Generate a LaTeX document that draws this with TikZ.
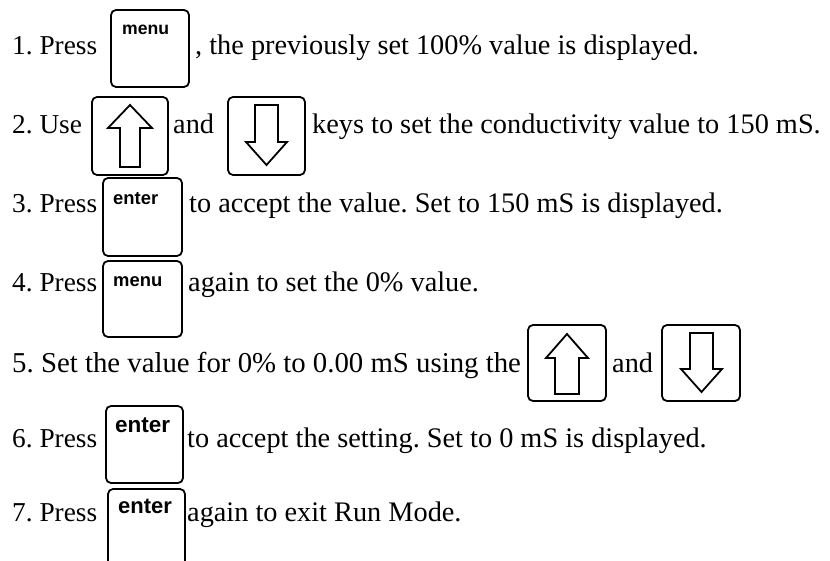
\documentclass[tikz,border=0pt]{standalone}
\usepackage{fontspec}
\setmainfont{Liberation Serif}
\newfontfamily\keyfont{Liberation Sans}
\begin{document}
\frenchspacing
\begin{tikzpicture}[x=1pt,y=-1pt,
  txt/.style={anchor=base west,inner sep=0pt,font=\fontsize{28.3}{32}\selectfont},
  pre/.style={anchor=base west,inner sep=0pt,font=\fontsize{27.3}{32}\selectfont},
  keybox/.style={draw,line width=1.8pt,rounded corners=5pt},
  keylbl/.style={anchor=base west,inner sep=0pt,font=\keyfont\bfseries\fontsize{#1}{#1}\selectfont},
  arr/.style={draw,line width=1.8pt,line join=miter}]
\useasboundingbox (0,0) rectangle (830,561);
\clip (0,0) rectangle (830,561);
% line 1
\node[pre] (t1a) at (12,55) {1. Press};
\draw[keybox] (111,10) rectangle (189,87);
\node[keylbl=17.6] (k1) at (122,35) {menu};
\node[txt] (t1b) at (195,55) {, the previously set 100\% value is displayed.};
% line 2
\node[pre] (t2a) at (12,134) {2. Use};
\draw[keybox] (92,97) rectangle (168,175);
\draw[arr] (130,105) -- (152,128) -- (140,128) -- (140,167) -- (120,167) -- (120,128) -- (108,128) -- cycle;
\node[txt] (t2b) at (173,134) {and};
\draw[keybox] (228,97) rectangle (305,175);
\draw[arr] (266.5,165) -- (287,142) -- (278,142) -- (278,105) -- (255,105) -- (255,142) -- (246,142) -- cycle;
\node[txt] (t2c) at (312,134) {keys to set the conductivity value to 150 mS.};
% line 3
\node[pre] (t3a) at (12,213) {3. Press};
\draw[keybox] (103,178) rectangle (182,256);
\node[keylbl=18.4] (k3) at (113,205) {enter};
\node[txt] (t3b) at (189,213) {to accept the value. Set to 150 mS is displayed.};
% line 4
\node[pre] (t4a) at (12,292) {4. Press};
\draw[keybox] (103,261) rectangle (182,337);
\node[keylbl=18.4] (k4) at (113,287) {menu};
\node[txt] (t4b) at (188,292) {again to set the 0\% value.};
% line 5
\node[txt,font=\fontsize{28.8}{32}\selectfont] (t5a) at (12,372) {5. Set the value for 0\% to 0.00 mS using the};
\draw[keybox] (528,325) rectangle (606,401);
\draw[arr] (567,334) -- (588,358) -- (579,358) -- (579,394) -- (555,394) -- (555,358) -- (546,358) -- cycle;
\node[txt] (t5b) at (612,372) {and};
\draw[keybox] (662,325) rectangle (740,401);
\draw[arr] (701.5,392) -- (722,369) -- (713,369) -- (713,333) -- (690,333) -- (690,369) -- (681,369) -- cycle;
% line 6
\node[pre] (t6a) at (12,447) {6. Press};
\draw[keybox] (106,406) rectangle (183,483);
\node[keylbl=22.5] (k6) at (115,432) {enter};
\node[txt] (t6b) at (187,447) {to accept the setting. Set to 0 mS is displayed.};
% line 7
\node[pre] (t7a) at (12,521) {7. Press};
\draw[keybox] (108,489) rectangle (185,566);
\node[keylbl=22] (k7) at (118,513) {enter};
\node[txt] (t7b) at (187,521) {again to exit Run Mode.};
\end{tikzpicture}
\end{document}
